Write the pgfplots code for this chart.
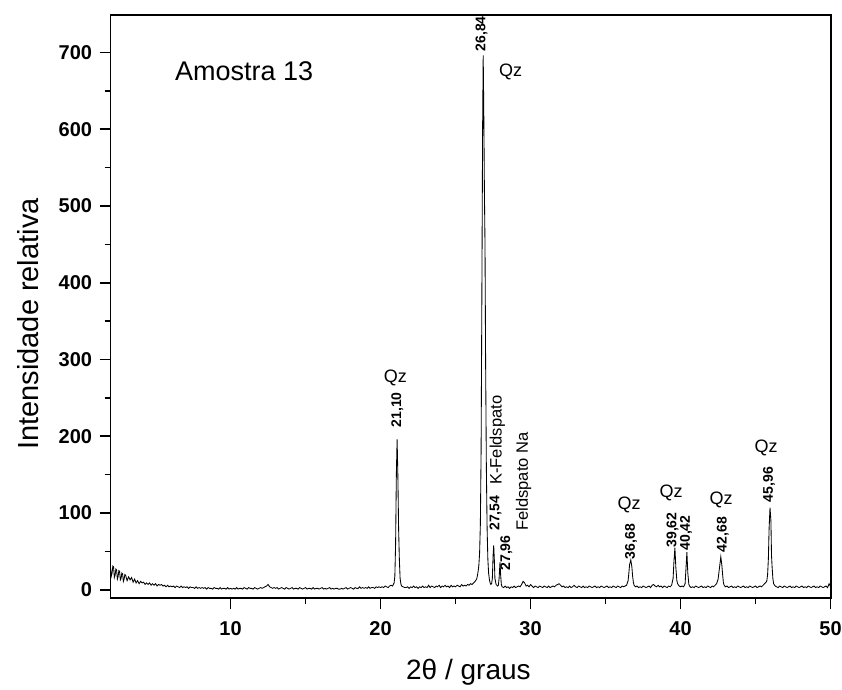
\documentclass[border=0pt]{standalone}
\usepackage{pgfplots}
\pgfplotsset{compat=1.18}
\usepackage{fontspec}
\setmainfont{Liberation Sans}
\begin{document}
\begin{tikzpicture}
\path[use as bounding box] (-110.6pt,-90.7pt) rectangle (731.4pt,598.3pt);
\begin{axis}[
  scale only axis,
  width=720pt, height=583.6pt,
  xmin=2, xmax=50, ymin=-11, ymax=749,
  xtick={10,20,30,40,50},
  ytick={0,100,200,300,400,500,600,700},
  minor x tick num=1, minor y tick num=1,
  tick align=outside,
  xtick pos=bottom, ytick pos=left,
  major tick length=11pt, minor tick length=6pt,
  axis line style={line width=1.8pt},
  every tick/.style={black, line width=1.6pt},
  /pgf/number format/assume math mode=true,
  ticklabel style={font=\fontsize{20}{20}\selectfont\bfseries},
  xticklabel shift=9pt,
  yticklabel shift=4pt,
  xlabel={2θ / graus},
  ylabel={Intensidade relativa},
  label style={font=\fontsize{28}{28}\selectfont},
  xlabel style={at={(axis description cs:0.497,-0.126)}, anchor=center},
  ylabel style={at={(axis description cs:-0.115,0.47)}, anchor=center, font=\fontsize{29}{29}\selectfont},
  clip=false,
]
\addplot[black, line width=0.85pt] coordinates {
(2.0,28)(2.05,18)(2.1,22)(2.15,31)(2.2,30)(2.25,16)(2.3,19)(2.35,27)(2.4,26)(2.45,14)(2.5,17)(2.55,25)(2.6,24)(2.65,13)(2.7,15)(2.75,22)(2.8,21)(2.85,11)(2.9,14)(2.95,20)
(3.0,19)(3.1,12)(3.2,17)(3.3,13)(3.4,16)(3.5,10)(3.6,14)(3.7,9)(3.8,12)(3.9,8)
(4.0,11)(4.1,9)(4.2,10)(4.3,7)(4.4,9)(4.5,7)(4.6,9)(4.7,6)(4.8,8)(4.9,6)
(5.0,8)(5.1,5)(5.2,7)(5.3,6)(5.4,7)(5.5,5)(5.6,6)(5.7,4)(5.8,6)(5.9,4)
(6.0,5)(6.1,4)(6.2,5)(6.3,3)(6.4,5)(6.5,4)(6.6,3)(6.7,5)(6.8,3)(6.9,4)
(7.0,3)(7.1,4)(7.2,2)(7.3,4)(7.4,3)(7.5,3)(7.6,2)(7.7,4)(7.8,2)(7.9,3)
(8.0,2)(8.1,3)(8.2,2)(8.3,3)(8.4,1)(8.5,3)(8.6,2)(8.7,2)(8.8,1)(8.9,3)
(9.0,2)(9.1,2)(9.2,1)(9.3,3)(9.4,1)(9.5,2)(9.6,2)(9.7,1)(9.8,3)(9.9,1)
(10.0,2)(10.1,1)(10.2,2)(10.3,1)(10.4,3)(10.5,1)(10.6,2)(10.7,2)(10.8,1)(10.9,3)
(11.0,2)(11.1,1)(11.2,3)(11.3,2)(11.4,2)(11.5,1)(11.6,3)(11.7,2)(11.8,1)(11.9,2)
(12.0,3)(12.1,2)(12.2,3)(12.3,4)(12.4,5)(12.5,7)(12.6,4)(12.7,3)(12.8,2)(12.9,3)
(13.0,2)(13.1,3)(13.2,1)(13.3,2)(13.4,3)(13.5,2)(13.6,1)(13.7,3)(13.8,2)(13.9,1)
(14.0,2)(14.1,3)(14.2,1)(14.3,2)(14.4,2)(14.5,1)(14.6,3)(14.7,2)(14.8,1)(14.9,2)
(15.0,3)(15.1,1)(15.2,2)(15.3,2)(15.4,1)(15.5,3)(15.6,1)(15.7,2)(15.8,2)(15.9,1)
(16.0,2)(16.1,3)(16.2,1)(16.3,2)(16.4,1)(16.5,2)(16.6,3)(16.7,1)(16.8,2)(16.9,1)
(17.0,2)(17.1,2)(17.2,1)(17.3,1)(17.4,2)(17.5,1)(17.6,2)(17.7,3)(17.8,1)(17.9,2)
(18.0,3)(18.1,2)(18.2,1)(18.3,3)(18.4,2)(18.5,2)(18.6,4)(18.7,2)(18.8,3)(18.9,2)
(19.0,3)(19.1,2)(19.2,4)(19.3,2)(19.4,3)(19.5,3)(19.6,2)(19.7,4)(19.8,3)(19.9,4)
(20.0,3)(20.1,4)(20.2,3)(20.3,5)(20.4,4)(20.5,3)(20.6,5)(20.7,6)(20.8,5)(20.9,9)
(20.95,18)(21.0,60)(21.05,150)(21.10,196)(21.15,150)(21.2,80)(21.25,40)(21.3,15)(21.35,8)(21.4,5)
(21.5,4)(21.6,3)(21.7,3)(21.8,4)(21.9,2)(22.0,4)(22.1,3)(22.2,5)(22.3,3)(22.4,4)
(22.5,2)(22.6,4)(22.7,3)(22.8,5)(22.9,3)(23.0,4)(23.1,3)(23.2,6)(23.3,3)(23.4,5)
(23.5,4)(23.6,3)(23.7,5)(23.8,4)(23.9,6)(24.0,3)(24.1,5)(24.2,4)(24.3,6)(24.4,4)
(24.5,5)(24.6,3)(24.7,6)(24.8,4)(24.9,5)(25.0,4)(25.1,6)(25.2,5)(25.3,4)(25.4,7)
(25.5,5)(25.6,6)(25.7,5)(25.8,7)(25.9,6)(26.0,8)(26.1,7)(26.2,9)(26.3,11)(26.4,14)
(26.45,18)(26.5,24)(26.55,32)(26.6,48)(26.65,85)(26.7,180)(26.75,380)(26.8,600)(26.84,696)(26.88,620)
(26.92,520)(26.96,450)(27.0,300)(27.05,160)(27.1,80)(27.15,40)(27.2,22)(27.25,14)(27.3,9)(27.35,7)
(27.4,8)(27.45,15)(27.5,45)(27.54,58)(27.58,40)(27.62,15)(27.7,7)(27.8,5)(27.85,6)(27.9,15)
(27.96,36)(28.0,20)(28.05,7)(28.1,4)(28.2,3)(28.3,5)(28.4,3)(28.5,4)(28.6,2)(28.7,4)
(28.8,3)(28.9,5)(29.0,3)(29.1,4)(29.2,5)(29.3,4)(29.4,7)(29.5,11)(29.6,9)(29.7,5)
(29.8,6)(29.9,4)(30.0,7)(30.1,5)(30.2,3)(30.3,5)(30.4,4)(30.5,3)(30.6,5)(30.7,4)
(30.8,3)(30.9,5)(31.0,4)(31.1,3)(31.2,5)(31.3,3)(31.4,4)(31.5,5)(31.6,4)(31.7,6)
(31.8,7)(31.9,8)(32.0,6)(32.1,4)(32.2,5)(32.3,3)(32.4,4)(32.5,3)(32.6,5)(32.7,3)
(32.8,4)(32.9,6)(33.0,4)(33.1,3)(33.2,5)(33.3,4)(33.4,3)(33.5,5)(33.6,3)(33.7,4)
(33.8,3)(33.9,5)(34.0,4)(34.1,3)(34.2,4)(34.3,5)(34.4,3)(34.5,4)(34.6,3)(34.7,5)
(34.8,4)(34.9,3)(35.0,4)(35.1,5)(35.2,3)(35.3,4)(35.4,3)(35.5,5)(35.6,4)(35.7,3)
(35.8,5)(35.9,4)(36.0,3)(36.1,5)(36.2,4)(36.3,5)(36.4,6)(36.5,12)(36.55,22)(36.6,33)
(36.68,39)(36.75,30)(36.8,18)(36.85,10)(36.9,6)(37.0,4)(37.1,5)(37.2,3)(37.3,4)(37.4,3)
(37.5,5)(37.6,4)(37.7,3)(37.8,4)(37.9,5)(38.0,3)(38.1,6)(38.2,7)(38.3,5)(38.4,4)
(38.5,6)(38.6,4)(38.7,5)(38.8,3)(38.9,5)(39.0,4)(39.1,3)(39.2,5)(39.3,4)(39.4,6)
(39.5,15)(39.55,35)(39.62,55)(39.68,30)(39.75,12)(39.8,8)(39.9,5)(40.0,4)(40.1,5)(40.2,4)
(40.3,8)(40.35,25)(40.42,49)(40.48,22)(40.55,7)(40.6,5)(40.7,3)(40.8,4)(40.9,3)(41.0,5)
(41.1,4)(41.2,3)(41.3,4)(41.4,5)(41.5,3)(41.6,4)(41.7,3)(41.8,5)(41.9,4)(42.0,3)
(42.1,5)(42.2,4)(42.3,6)(42.4,8)(42.5,14)(42.55,22)(42.6,30)(42.68,43)(42.75,32)(42.8,20)
(42.85,10)(42.9,6)(43.0,4)(43.1,5)(43.2,3)(43.3,4)(43.4,5)(43.5,3)(43.6,4)(43.7,3)
(43.8,5)(43.9,4)(44.0,3)(44.1,4)(44.2,5)(44.3,3)(44.4,4)(44.5,3)(44.6,5)(44.7,4)
(44.8,3)(44.9,4)(45.0,5)(45.1,3)(45.2,4)(45.3,5)(45.4,4)(45.5,6)(45.6,8)(45.7,10)
(45.75,12)(45.8,20)(45.85,40)(45.9,80)(45.96,107)(46.02,90)(46.06,45)(46.1,30)(46.15,15)(46.2,8)
(46.3,5)(46.4,4)(46.5,3)(46.6,5)(46.7,4)(46.8,3)(46.9,5)(47.0,4)(47.1,3)(47.2,4)
(47.3,5)(47.4,3)(47.5,4)(47.6,3)(47.7,5)(47.8,4)(47.9,3)(48.0,4)(48.1,5)(48.2,3)
(48.3,4)(48.4,3)(48.5,5)(48.6,4)(48.7,3)(48.8,4)(48.9,5)(49.0,3)(49.1,4)(49.2,3)
(49.3,5)(49.4,4)(49.5,3)(49.6,4)(49.7,5)(49.8,3)(49.9,8)(50.0,4)
};
\node[font=\fontsize{27}{27}\selectfont] at (axis cs:10.91,675) {Amostra 13};
\tikzset{pk/.style={font=\fontsize{14}{14}\selectfont\bfseries, rotate=90, inner sep=0pt},
         qz/.style={font=\fontsize{18}{18}\selectfont, inner sep=0pt},
         fd/.style={font=\fontsize{16.5}{16.5}\selectfont, rotate=90, inner sep=0pt}}
\node[pk] at (axis cs:26.73,724) {26,84};
\node[qz] at (axis cs:28.67,675) {Qz};
\node[qz] at (axis cs:20.99,276) {Qz};
\node[pk] at (axis cs:21.12,234.5) {21,10};
\node[pk] at (axis cs:27.67,100) {27,54};
\node[pk] at (axis cs:28.38,48) {27,96};
\node[fd] at (axis cs:27.78,195) {K-Feldspato};
\node[fd] at (axis cs:29.54,141) {Feldspato Na};
\node[pk] at (axis cs:36.69,63) {36,68};
\node[qz] at (axis cs:36.56,111) {Qz};
\node[pk] at (axis cs:39.47,78) {39,62};
\node[pk] at (axis cs:40.36,74) {40,42};
\node[qz] at (axis cs:39.36,126) {Qz};
\node[pk] at (axis cs:42.81,72) {42,68};
\node[qz] at (axis cs:42.7,117) {Qz};
\node[pk] at (axis cs:45.9,137) {45,96};
\node[qz] at (axis cs:45.7,185) {Qz};
\end{axis}
\end{tikzpicture}
\end{document}
